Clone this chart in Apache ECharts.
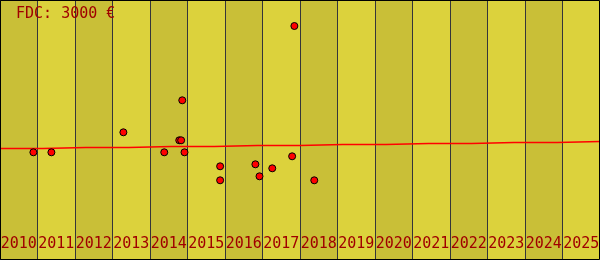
<!DOCTYPE html>
<html>
<head>
<meta charset="utf-8">
<script src="https://cdn.jsdelivr.net/npm/echarts@6/dist/echarts.min.js"></script>
<style>html,body{margin:0;padding:0;}#c{width:600px;height:260px;}</style>
</head>
<body>
<div id="c"></div>
<script>
var years = ['2010','2011','2012','2013','2014','2015','2016','2017','2018','2019','2020','2021','2022','2023','2024','2025'];
var pointX = [2010.89, 2011.37, 2013.29, 2014.78, 2014.83, 2014.38, 2014.92, 2014.86, 2015.87, 2015.87, 2016.81, 2016.92, 2017.26, 2017.79, 2017.85, 2018.38];
var pointY = [107.7, 107.7, 127.7, 119.7, 119.7, 107.7, 107.7, 159.7, 93.7, 79.7, 95.7, 83.7, 91.7, 103.7, 234, 79.7];
var stepX = [2010, 2012.29, 2014.57, 2016.86, 2019.14, 2021.43, 2023.71, 2026];
var stepY = [111.5, 112.5, 113.5, 114.5, 115.5, 116.5, 117.5, 118.5];
var titleText = 'FDC: 3000 €';

var chart = echarts.init(document.getElementById('c'), null, {renderer: 'canvas'});
var pts = pointX.map(function (x, i) { return [x, pointY[i]]; });
var steps = stepX.map(function (x, i) { return [x, stepY[i]]; });
chart.setOption({
  animation: false,
  backgroundColor: '#dcd23c',
  title: {
    text: titleText, left: 11, top: 2,
    textStyle: {fontFamily: 'DejaVu Sans Mono', fontSize: 15, fontWeight: 'normal', color: '#a00000'}
  },
  grid: {left: 0, right: 0, top: 0, bottom: 0, containLabel: false, outerBoundsMode: 'none'},
  xAxis: [{
    type: 'category', data: years, boundaryGap: true, position: 'bottom',
    axisLine: {show: false}, axisTick: {show: false},
    axisLabel: {inside: true, margin: 8, interval: 0, fontFamily: 'DejaVu Sans Mono', fontSize: 15, color: '#a00000'},
    splitLine: {show: true, interval: 0, lineStyle: {color: '#35353a', width: 1}},
    splitArea: {show: true, interval: 0, areaStyle: {color: ['#c9bf37', '#dcd23c']}}
  }, {
    type: 'value', min: 2010, max: 2026, show: false
  }],
  yAxis: {type: 'value', min: 0, max: 260, show: false},
  series: [{
    type: 'line', xAxisIndex: 1, data: steps, step: 'middle', symbol: 'none',
    lineStyle: {color: '#ff0000', width: 1.3}, z: 3
  }, {
    type: 'scatter', xAxisIndex: 1, data: pts, symbol: 'circle', symbolSize: 7,
    itemStyle: {color: '#ff0000', borderColor: '#000', borderWidth: 1, opacity: 1}, z: 4
  }],
  graphic: [{
    type: 'rect', shape: {x: 0.5, y: 0.5, width: 599, height: 259},
    style: {fill: null, stroke: '#000', lineWidth: 1}, z: 100
  }]
});
</script>
</body>
</html>
